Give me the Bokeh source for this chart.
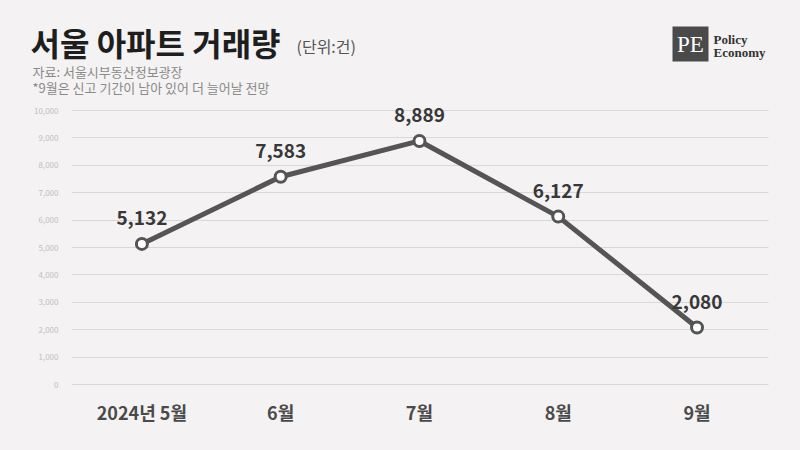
from bokeh.plotting import figure
from bokeh.models import Range1d, FixedTicker, NumeralTickFormatter, Label, ColumnDataSource, BoxAnnotation
from bokeh.embed import file_html
from bokeh.resources import INLINE
from bokeh.core.properties import value

months = ["2024년 5월", "6월", "7월", "8월", "9월"]
deals = [5132, 7583, 8889, 6127, 2080]
deal_labels = ["5,132", "7,583", "8,889", "6,127", "2,080"]
y_ticks = [0, 1000, 2000, 3000, 4000, 5000, 6000, 7000, 8000, 9000, 10000]

BG = "#f4f2f3"
FONT = "Noto Sans CJK KR"
W, H = 800, 450

# plot area in page px: grid from x=72 to 768, value 0 at y=384, 10,000 at y=110
GL, GR, G0, G10 = 72, 768, 384, 110
XA, XB = -0.5, 4.515           # data x at GL and GR
XPP = (XB - XA) / (GR - GL)    # data per px (x)
YPP = 10000 / (G0 - G10)       # data per px (y)


def dx(px):
    return XA + (px - GL) * XPP


def dy(py):
    return (G0 - py) * YPP


xs = list(range(len(months)))
src = ColumnDataSource(dict(x=xs, y=deals, lab=deal_labels))

p = figure(width=W, height=H, output_backend="svg", toolbar_location=None,
           x_range=Range1d(dx(0), dx(W)), y_range=Range1d(dy(H), dy(0)),
           min_border_left=0, min_border_right=0, min_border_top=0, min_border_bottom=0)
p.background_fill_color = BG
p.border_fill_color = BG
p.outline_line_color = None

p.xgrid.grid_line_color = None
p.ygrid.grid_line_color = "#d9d7d8"
p.ygrid.grid_line_width = 1

# axes drawn inside the canvas
p.yaxis.fixed_location = dx(GL)
p.yaxis.ticker = FixedTicker(ticks=y_ticks)
p.yaxis.formatter = NumeralTickFormatter(format="0,0")
p.yaxis.axis_line_color = None
p.yaxis.major_tick_line_color = None
p.yaxis.minor_tick_line_color = None
p.yaxis.major_label_text_font_size = "8px"
p.yaxis.major_label_text_color = "#c0c0c0"
p.yaxis.major_label_text_font = FONT
p.yaxis.major_label_standoff = 8

p.xaxis.fixed_location = 0
p.xaxis.ticker = FixedTicker(ticks=xs)
p.xaxis.major_label_overrides = {i: m for i, m in enumerate(months)}
p.xaxis.axis_line_color = None
p.xaxis.major_tick_line_color = None
p.xaxis.minor_tick_line_color = None
p.xaxis.major_label_text_font_size = "18px"
p.xaxis.major_label_text_font_style = "bold"
p.xaxis.major_label_text_color = "#4a4a4a"
p.xaxis.major_label_text_font = FONT
p.xaxis.major_label_standoff = 8

# mask grid line ends outside the plotting band
p.add_layout(BoxAnnotation(left=dx(0), right=dx(GL - 0.5), bottom=dy(400), top=dy(95),
                           fill_color=BG, fill_alpha=1.0, line_color=None, level="underlay"))
p.add_layout(BoxAnnotation(left=dx(GR), right=dx(W), bottom=dy(400), top=dy(95),
                           fill_color=BG, fill_alpha=1.0, line_color=None, level="underlay"))

p.line("x", "y", source=src, line_color="#555555", line_width=5)
p.scatter("x", "y", source=src, size=11, fill_color="white", line_color="#555555", line_width=3)
p.text("x", "y", text="lab", source=src, text_align="center", text_baseline="middle",
       y_offset=-26, text_font=value(FONT), text_font_size="19px", text_font_style="bold",
       text_color="#383838")

# header
p.add_layout(Label(x=dx(30), y=dy(41), text="서울 아파트 거래량",
                   text_font=FONT, text_font_size="32px", text_font_style="bold", text_color="#1e1e1e",
                   text_baseline="middle", text_align="left"))
p.add_layout(Label(x=dx(296), y=dy(45), text="(단위:건)",
                   text_font=FONT, text_font_size="16px", text_color="#555555",
                   text_baseline="middle", text_align="left"))
p.add_layout(Label(x=dx(32), y=dy(70.5), text="자료: 서울시부동산정보광장",
                   text_font=FONT, text_font_size="13px", text_color="#8a8a8a",
                   text_baseline="middle", text_align="left"))
p.add_layout(Label(x=dx(32), y=dy(87), text="*9월은 신고 기간이 남아 있어 더 늘어날 전망",
                   text_font=FONT, text_font_size="13px", text_color="#8a8a8a",
                   text_baseline="middle", text_align="left"))

# logo
p.add_layout(BoxAnnotation(left=dx(672), right=dx(708), top=dy(26), bottom=dy(61),
                           fill_color="#4a4a4a", fill_alpha=1.0, line_color=None))
p.add_layout(Label(x=dx(690), y=dy(44), text="PE",
                   text_font="Liberation Serif", text_font_size="23px", text_color="white",
                   text_baseline="middle", text_align="center"))
p.add_layout(Label(x=dx(713), y=dy(38.5), text="Policy",
                   text_font="Liberation Serif", text_font_size="13px", text_font_style="bold",
                   text_color="#333333", text_baseline="middle", text_align="left"))
p.add_layout(Label(x=dx(713), y=dy(51.5), text="Economy",
                   text_font="Liberation Serif", text_font_size="13px", text_font_style="bold",
                   text_color="#333333", text_baseline="middle", text_align="left"))

html = file_html(p, INLINE)
html = html.replace("</head>", "<style>html, body { background-color: %s; }</style></head>" % BG, 1)
open("out.html", "w").write(html)
